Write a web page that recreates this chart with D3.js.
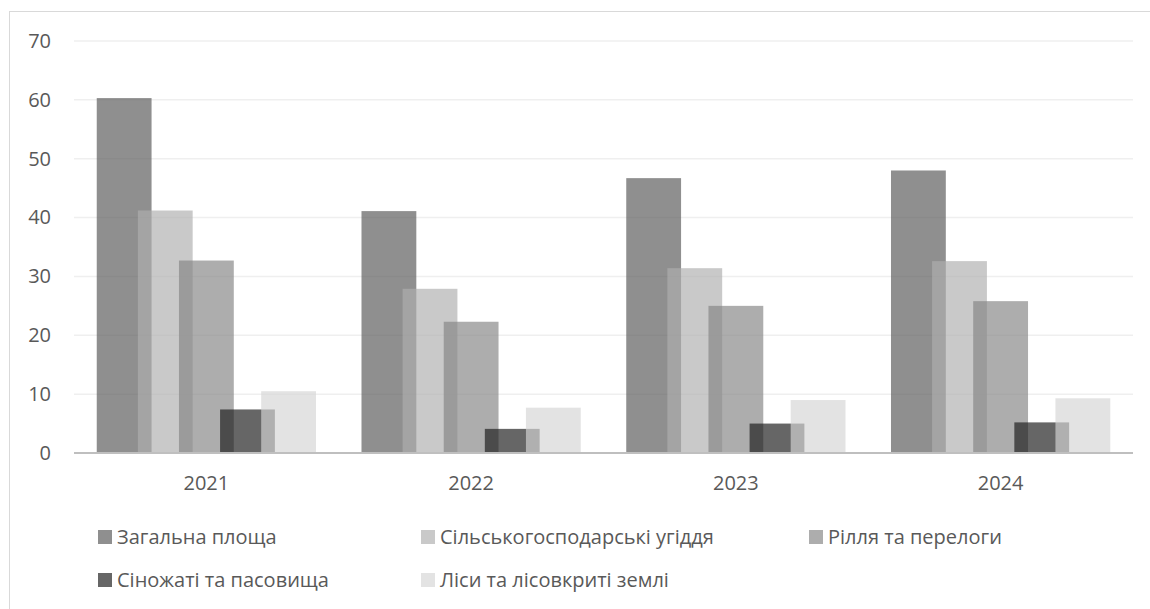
<!DOCTYPE html>
<html>
<head>
<meta charset="utf-8">
<script src="https://cdn.jsdelivr.net/npm/d3@7"></script>
<style>
  body { margin: 0; background: #fff; }
  svg text { font-family: "Open Sans", sans-serif; fill: #595959; }
</style>
</head>
<body>
<div id="chart"></div>
<script>
// categories and series
var years = ['2021', '2022', '2023', '2024'];
var seriesNames = [
  'Загальна площа',
  'Сільськогосподарські угіддя',
  'Рілля та перелоги',
  'Сіножаті та пасовища',
  'Ліси та лісовкриті землі'
];
var totalArea    = [60.3, 41.1, 46.7, 48.0];
var agriLand     = [41.2, 27.9, 31.4, 32.6];
var arableLand   = [32.7, 22.3, 25.0, 25.8];
var pastures     = [7.4, 4.1, 5.0, 5.2];
var forests      = [10.5, 7.7, 9.0, 9.3];
var yTicks = [0, 10, 20, 30, 40, 50, 60, 70];

var seriesValues = [totalArea, agriLand, arableLand, pastures, forests];
var seriesColors = ['#585858', '#afafaf', '#858585', '#1b1b1b', '#d5d5d5'];

var W = 1150, H = 609;
var plot = { left: 74, right: 1133, top: 41, bottom: 453 };

var svg = d3.select('#chart').append('svg')
    .attr('width', W)
    .attr('height', H);

// outer chart border
svg.append('rect')
    .attr('x', 9.5).attr('y', 11.5)
    .attr('width', W + 10).attr('height', H + 10)
    .attr('fill', 'none')
    .attr('stroke', '#d9d9d9')
    .attr('stroke-width', 1);

var x = d3.scaleBand()
    .domain(years)
    .range([plot.left, plot.right])
    .paddingInner(0).paddingOuter(0);

var y = d3.scaleLinear()
    .domain([0, 70])
    .range([plot.bottom, plot.top]);

// gridlines
svg.append('g')
    .selectAll('line')
    .data(yTicks.slice(1))
    .enter().append('line')
    .attr('x1', plot.left).attr('x2', plot.right)
    .attr('y1', function (d) { return y(d); })
    .attr('y2', function (d) { return y(d); })
    .attr('stroke', '#efefef')
    .attr('stroke-width', 1.5);

// y axis labels
var yAxis = d3.axisLeft(y).tickValues(yTicks).tickSize(0).tickPadding(0);
var yg = svg.append('g')
    .attr('transform', 'translate(51,0)')
    .call(yAxis);
yg.select('.domain').remove();
yg.selectAll('text')
    .style('font-size', '20px')
    .style('font-family', '"Open Sans", sans-serif')
    .attr('fill', '#595959');

// bars: overlapping, semi-transparent
var band = x.bandwidth();
var barW = band / 4.83;
var step = barW * 0.75;
var inner = d3.scaleLinear().domain([0, 4]).range([-2 * barW, -2 * barW + 4 * step]);

seriesValues.forEach(function (vals, si) {
  svg.append('g')
      .selectAll('rect')
      .data(vals)
      .enter().append('rect')
      .attr('x', function (d, i) { return x(years[i]) + band / 2 + inner(si); })
      .attr('y', function (d) { return y(d); })
      .attr('width', barW)
      .attr('height', function (d) { return y(0) - y(d); })
      .attr('fill', seriesColors[si])
      .attr('fill-opacity', 0.67);
});

// x axis line
svg.append('line')
    .attr('x1', plot.left).attr('x2', plot.right)
    .attr('y1', y(0)).attr('y2', y(0))
    .attr('stroke', '#bfbfbf')
    .attr('stroke-width', 2);

// x labels
var xAxis = d3.axisBottom(x).tickSize(0).tickPadding(0);
var xg = svg.append('g')
    .attr('transform', 'translate(0,' + (y(0) + 23) + ')')
    .call(xAxis);
xg.select('.domain').remove();
xg.selectAll('text')
    .style('font-size', '20px')
    .style('font-family', '"Open Sans", sans-serif')
    .attr('fill', '#595959');

// legend
var legendPos = [
  { x: 98, y: 537 }, { x: 421, y: 537 }, { x: 809, y: 537 },
  { x: 98, y: 580 }, { x: 421, y: 580 }
];
var lg = svg.append('g')
    .selectAll('g')
    .data(seriesNames)
    .enter().append('g')
    .attr('transform', function (d, i) {
      return 'translate(' + legendPos[i].x + ',' + legendPos[i].y + ')';
    });
lg.append('rect')
    .attr('x', 0).attr('y', -7)
    .attr('width', 14).attr('height', 14)
    .attr('fill', function (d, i) { return seriesColors[i]; })
    .attr('fill-opacity', 0.67);
lg.append('text')
    .attr('x', 19)
    .attr('dy', '0.36em')
    .style('font-size', '20px')
    .text(function (d) { return d; });
</script>
</body>
</html>
